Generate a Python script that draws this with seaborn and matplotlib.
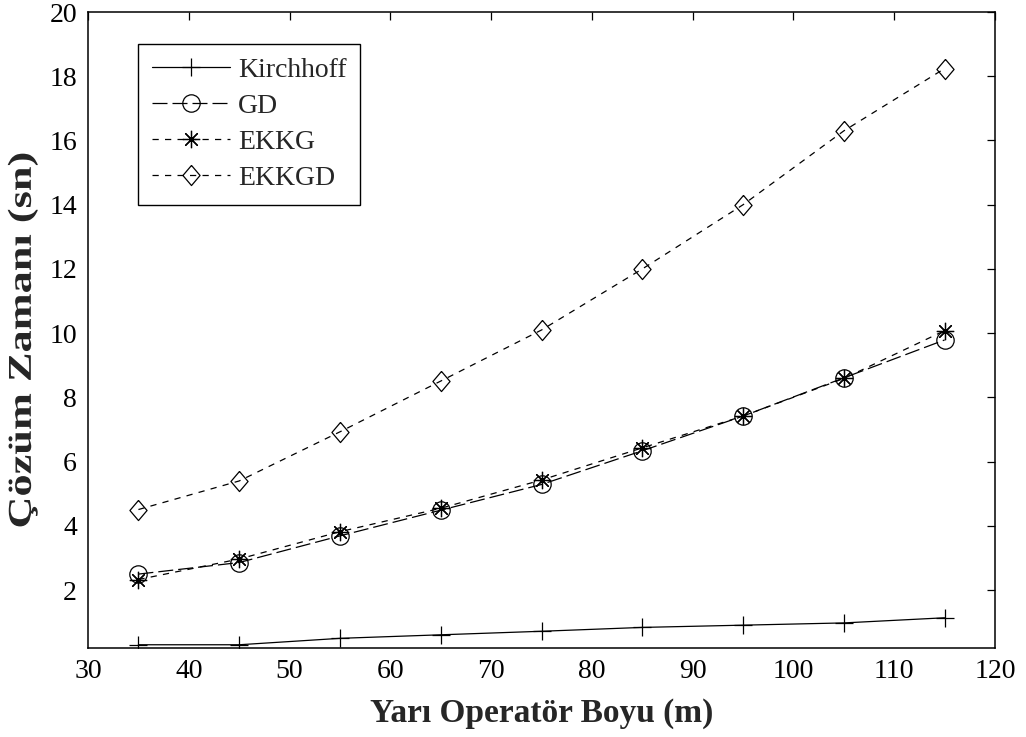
import numpy as np
import pandas as pd
import matplotlib
matplotlib.use("Agg")
import matplotlib.pyplot as plt
import seaborn as sns
from matplotlib.patheffects import AbstractPathEffect
from matplotlib.transforms import Affine2D

# Half operator length (m)
operator_length = [35, 45, 55, 65, 75, 85, 95, 105, 115]

# Solution times (s) for each method
kirchhoff = [0.30, 0.30, 0.50, 0.61, 0.72, 0.84, 0.91, 0.98, 1.14]
gd = [2.50, 2.86, 3.69, 4.49, 5.29, 6.34, 7.42, 8.61, 9.79]
ekkg = [2.33, 2.97, 3.82, 4.55, 5.43, 6.43, 7.42, 8.59, 10.08]
ekkgd = [4.51, 5.40, 6.93, 8.51, 10.10, 12.00, 14.00, 16.30, 18.24]

series_names = ["Kirchhoff", "GD", "EKKG", "EKKGD"]
x_ticks = list(range(30, 121, 10))
y_ticks = list(range(2, 21, 2))


class VerticalStretch(AbstractPathEffect):
    """Stretch drawn text vertically about the centre of an axes."""

    def __init__(self, ax, factor, shift_pts=0.0):
        super().__init__()
        self.ax = ax
        self.factor = factor
        self.shift_pts = shift_pts

    def draw_path(self, renderer, gc, tpath, affine, rgbFace=None):
        cy = 0.5 * (self.ax.bbox.y0 + self.ax.bbox.y1)
        shift = renderer.points_to_pixels(self.shift_pts)
        stretch = (Affine2D().translate(0, -cy).scale(1, self.factor)
                   .translate(0, cy + shift))
        renderer.draw_path(gc, tpath, affine + stretch, rgbFace)


sns.set_theme(style="white")
plt.rcParams["font.family"] = ["Liberation Serif", "DejaVu Serif"]

fig = plt.figure(figsize=(10.26, 7.37), dpi=100)
ax = fig.add_axes([0.0858, 0.1208, 0.8840, 0.8629])

df = pd.DataFrame({
    "x": operator_length * 4,
    "y": kirchhoff + gd + ekkg + ekkgd,
    "method": [n for n in series_names for _ in operator_length],
})

diamond = [(0, 1), (0.85, 0), (0, -1), (-0.85, 0), (0, 1)]
styles = {
    "Kirchhoff": dict(marker="+", markersize=13, linestyle="-"),
    "GD": dict(marker="o", markersize=12.5, linestyle=(0, (12, 4))),
    "EKKG": dict(marker=(8, 2, 0), markersize=12.5, linestyle=(0, (5, 5))),
    "EKKGD": dict(marker=diamond, markersize=14.5, linestyle=(0, (5, 5))),
}

for name in series_names:
    st = styles[name]
    sns.lineplot(
        data=df[df["method"] == name], x="x", y="y", ax=ax,
        color="black", linewidth=0.9, label=name,
        marker=st["marker"], markersize=st["markersize"],
        linestyle=st["linestyle"], markerfacecolor="none",
        markeredgecolor="black", markeredgewidth=0.9,
        errorbar=None, sort=False,
    )

ax.set_xlim(30, 120)
ax.set_ylim(0.2, 20)
ax.set_xticks(x_ticks)
ax.set_yticks(y_ticks)
ax.tick_params(direction="in", length=6, width=0.9, top=True, right=True,
               labelsize=20, colors="black", pad=8)
for side in ax.spines.values():
    side.set_color("black")
    side.set_linewidth(1.1)

ax.set_xlabel("Yarı Operatör Boyu (m)", fontsize=24, fontweight="bold", labelpad=10)
ylab = ax.set_ylabel("Çözüm Zamanı (sn)", fontsize=24, fontweight="bold", labelpad=8)
ylab.set_path_effects([VerticalStretch(ax, 1.33, shift_pts=-7)])

leg = ax.legend(loc="upper left", bbox_to_anchor=(0.055, 0.95), borderaxespad=0,
                fontsize=20, frameon=True, fancybox=False, framealpha=1,
                edgecolor="black", handlelength=2.8, labelspacing=0.38,
                handletextpad=0.3, borderpad=0.5)
leg.get_frame().set_linewidth(1.0)

fig.savefig("out.png", dpi=100, facecolor="white")
